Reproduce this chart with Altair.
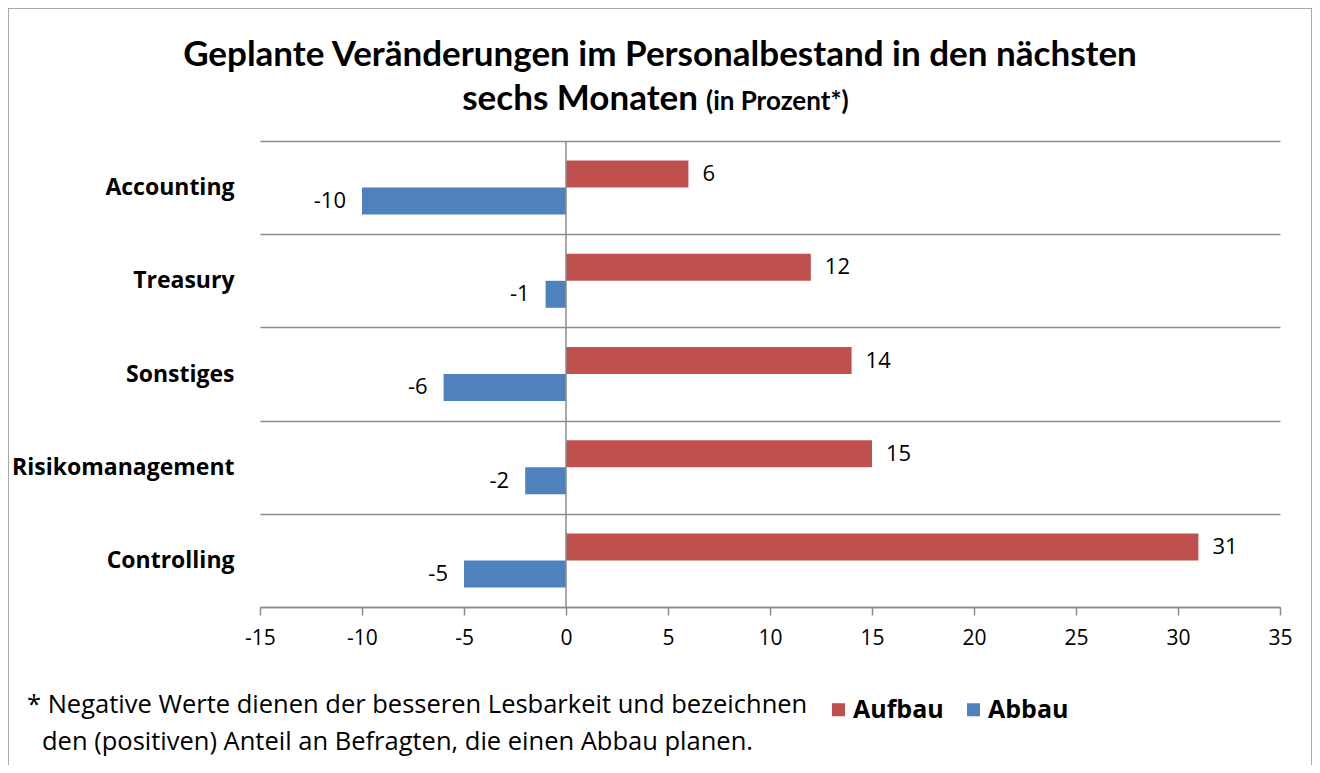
import altair as alt
import pandas as pd

categories = ["Accounting", "Treasury", "Sonstiges", "Risikomanagement", "Controlling"]
series = ["Aufbau", "Abbau"]
aufbau = [6, 12, 14, 15, 31]
abbau = [-10, -1, -6, -2, -5]
colors = ["#C0504D", "#4F81BD"]
x_ticks = [-15, -10, -5, 0, 5, 10, 15, 20, 25, 30, 35]

title_line1 = "Geplante Veränderungen im Personalbestand in den nächsten"
title_line2a = "sechs Monaten"
title_line2b = "(in Prozent*)"
foot1 = "* Negative Werte dienen der besseren Lesbarkeit und bezeichnen"
foot2 = "den (positiven) Anteil an Befragten, die einen Abbau planen."

rows = []
for c, a, b in zip(categories, aufbau, abbau):
    rows.append({"Kategorie": c, "Serie": "Aufbau", "Wert": a, "Label": str(a)})
    rows.append({"Kategorie": c, "Serie": "Abbau", "Wert": b, "Label": str(b)})
df = pd.DataFrame(rows)

FONT = "Open Sans"
TFONT = "Lato"
W, H = 1020, 466
GRAY = "#8c8c8c"

y_enc = alt.Y("Kategorie:N", sort=categories, title=None,
              scale=alt.Scale(paddingInner=0, paddingOuter=0),
              axis=alt.Axis(tickBand="extent", grid=True, gridColor=GRAY, gridWidth=1.5,
                            domain=False, ticks=False, labelFontSize=23, labelFontWeight="bold",
                            labelFont=FONT, labelColor="#000", labelPadding=26, labelLimit=0))
yoff = alt.YOffset("Serie:N", sort=series, scale=alt.Scale(paddingInner=0, paddingOuter=0.726))
x_enc = alt.X("Wert:Q", title=None,
              scale=alt.Scale(domain=[-15, 35], nice=False, zero=False),
              axis=alt.Axis(values=x_ticks, grid=False, domainColor=GRAY, domainWidth=1.5,
                            tickColor=GRAY, tickWidth=1.5, tickSize=8, labelFontSize=21,
                            labelFont=FONT, labelColor="#000", labelPadding=12,
                            labelFlush=False, labelOverlap=False,
                            labelExpr="'' + datum.value"))
color_enc = alt.Color("Serie:N", sort=series,
                      scale=alt.Scale(domain=series, range=colors),
                      legend=alt.Legend(title=None, orient="none", legendX=566, legendY=556,
                                        direction="horizontal", symbolType="square",
                                        symbolSize=170, symbolStrokeWidth=0,
                                        labelFontSize=25, labelFontWeight="bold", labelFont=FONT,
                                        labelColor="#000", columnPadding=17, labelOffset=2))

base = alt.Chart(df)

bars = base.mark_bar(size=27).encode(y=y_enc, yOffset=yoff, x=x_enc, color=color_enc)

lab_pos = base.transform_filter("datum.Wert >= 0").mark_text(
    align="left", baseline="middle", dx=14, fontSize=22, font=FONT, color="#000"
).encode(y=alt.Y("Kategorie:N", sort=categories), yOffset=yoff, x="Wert:Q", text="Label:N")

lab_neg = base.transform_filter("datum.Wert < 0").mark_text(
    align="right", baseline="middle", dx=-16, fontSize=22, font=FONT, color="#000"
).encode(y=alt.Y("Kategorie:N", sort=categories), yOffset=yoff, x="Wert:Q", text="Label:N")

zero_df = pd.DataFrame({"z": [0]})
zero_rule = alt.Chart(zero_df).mark_rule(color=GRAY, strokeWidth=1.5).encode(
    x=alt.X("z:Q"), y=alt.value(0), y2=alt.value(H))

def txt(s, x, y, size, weight="normal", align="left", font=FONT):
    return alt.Chart(pd.DataFrame({"t": [s]})).mark_text(
        align=align, baseline="middle", fontSize=size, fontWeight=weight, font=font, color="#000"
    ).encode(text="t:N", x=alt.value(x), y=alt.value(y))

border = alt.Chart(pd.DataFrame({"b": [0]})).mark_rect(
    fill=None, stroke=GRAY, strokeWidth=1.5).encode(
    x=alt.value(-252), x2=alt.value(1052), y=alt.value(-133), y2=alt.value(640))

t1 = txt(title_line1, 400, -86, 35, "bold", "center", TFONT)
t2a = txt(title_line2a, 438, -42, 35, "bold", "right", TFONT)
t2b = txt(title_line2b, 446, -39, 26, "bold", "left", TFONT)
f1 = txt(foot1, -233, 564, 25.5)
f2 = txt(foot2, -218, 601, 25.5)

chart = alt.layer(border, bars, zero_rule, lab_pos, lab_neg, t1, t2a, t2b, f1, f2).properties(
    width=W, height=H,
    autosize=alt.AutoSizeParams(type="none"),
    padding={"left": 252, "top": 133, "right": 32, "bottom": 158},
    background="white",
).configure_view(stroke=None)

chart.save("out.html", embed_options={"renderer": "svg", "actions": False})
